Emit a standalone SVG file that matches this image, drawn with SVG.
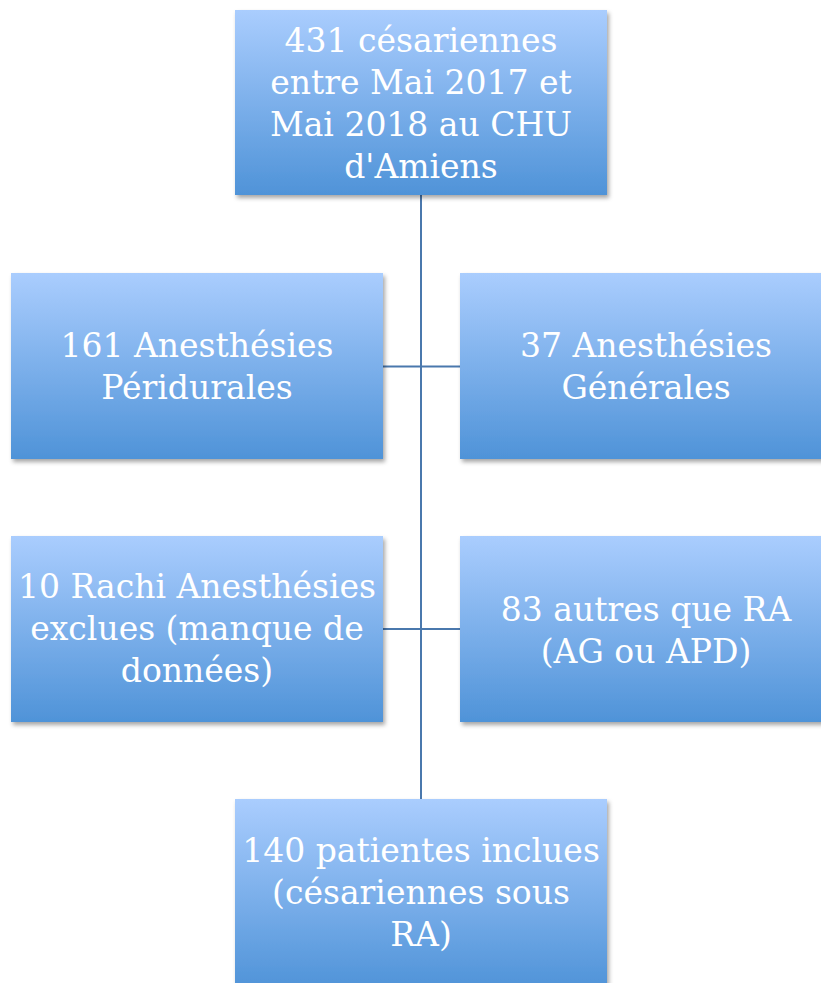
<svg xmlns="http://www.w3.org/2000/svg" width="821" height="983" viewBox="0 0 821 983">
<defs>
<linearGradient id="g" x1="0" y1="0" x2="0" y2="1">
<stop offset="0" stop-color="#aacdfe"/>
<stop offset="1" stop-color="#4f93d8"/>
</linearGradient>
<filter id="sh" x="-5%" y="-5%" width="115%" height="120%">
<feDropShadow dx="2" dy="3" stdDeviation="2" flood-color="#000" flood-opacity="0.35"/>
</filter>
<style>
.box{fill:url(#g);filter:url(#sh)}
.t{font-family:"DejaVu Serif","Liberation Serif",serif;font-size:33px;fill:#fff;text-anchor:middle}
.c{stroke:#4a78ad;stroke-width:2;fill:none}
</style>
</defs>
<rect width="821" height="983" fill="#fff"/>
<g id="connectors">
<line class="c" x1="421" y1="195" x2="421" y2="799"/>
<line class="c" x1="383" y1="366.5" x2="460" y2="366.5"/>
<line class="c" x1="383" y1="629" x2="460" y2="629"/>
</g>
<g id="n1">
<rect class="box" x="235" y="10" width="372" height="185"/>
<text class="t" x="421"><tspan x="421" y="52">431 césariennes</tspan><tspan x="421" y="94">entre Mai 2017 et</tspan><tspan x="421" y="136">Mai 2018 au CHU</tspan><tspan x="421" y="178">d'Amiens</tspan></text>
</g>
<g id="n2">
<rect class="box" x="11" y="273" width="372" height="186"/>
<text class="t"><tspan x="197" y="357">161 Anesthésies</tspan><tspan x="197" y="399">Péridurales</tspan></text>
</g>
<g id="n3">
<rect class="box" x="460" y="273" width="372" height="186"/>
<text class="t"><tspan x="646" y="357">37 Anesthésies</tspan><tspan x="646" y="399">Générales</tspan></text>
</g>
<g id="n4">
<rect class="box" x="11" y="536" width="372" height="186"/>
<text class="t"><tspan x="197" y="598">10 Rachi Anesthésies</tspan><tspan x="197" y="640">exclues (manque de</tspan><tspan x="197" y="682">données)</tspan></text>
</g>
<g id="n5">
<rect class="box" x="460" y="536" width="372" height="186"/>
<text class="t"><tspan x="646" y="621">83 autres que RA</tspan><tspan x="646" y="663">(AG ou APD)</tspan></text>
</g>
<g id="n6">
<rect class="box" x="235" y="799" width="372" height="190"/>
<text class="t"><tspan x="421" y="862">140 patientes inclues</tspan><tspan x="421" y="904">(césariennes sous</tspan><tspan x="421" y="946">RA)</tspan></text>
</g>
</svg>
